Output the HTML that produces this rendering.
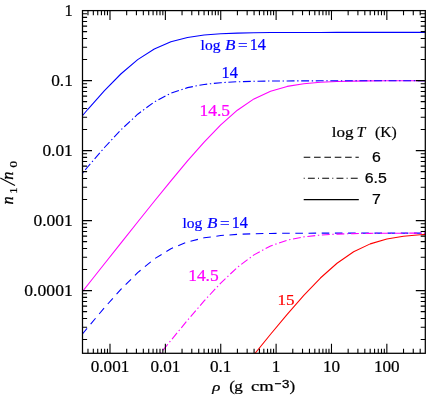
<!DOCTYPE html>
<html><head><meta charset="utf-8"><title>n1/n0</title>
<style>
html,body{margin:0;padding:0;background:#fff;}
body{width:436px;height:397px;overflow:hidden;}
svg{display:block;will-change:transform;}
text{font-family:"Liberation Serif",serif;}
.s{font-family:"Liberation Sans",sans-serif;}
</style></head><body>
<svg width="436" height="397" viewBox="0 0 436 397">
<rect width="436" height="397" fill="#fff"/>
<defs><clipPath id="cp"><rect x="82.50" y="10.60" width="342.80" height="342.70"/></clipPath></defs>
<g clip-path="url(#cp)" fill="none" stroke-width="1.08" stroke-linejoin="round">
<path d="M71.24,305.70 L87.85,284.72 L104.46,263.75 L121.07,242.83 L137.68,221.97 L154.30,201.26 L170.91,180.83 L187.52,160.93 L204.13,142.02 L220.74,124.80 L237.35,110.18 L253.96,98.91 L270.57,91.17 L287.18,86.40 L303.79,83.69 L320.41,82.23 L337.02,81.48 L353.63,81.09 L370.24,80.90 L386.85,80.80 L403.46,80.75 L420.07,80.72 L436.68,80.71" stroke="#ff00ff"/>
<path d="M71.24,585.13 L87.85,564.13 L104.46,543.13 L121.07,522.13 L137.68,501.13 L154.30,480.14 L170.91,459.15 L187.52,438.17 L204.13,417.20 L220.74,396.27 L237.35,375.41 L253.96,354.69 L270.57,334.24 L287.18,314.31 L303.79,295.33 L320.41,278.01 L337.02,263.23 L353.63,251.79 L370.24,243.88 L386.85,238.98 L403.46,236.19 L420.07,234.69 L436.68,233.91" stroke="#ff0000"/>
<path d="M71.24,129.03 L87.85,109.27 L104.46,90.59 L121.07,73.75 L137.68,59.67 L154.30,49.02 L170.91,41.85 L187.52,37.50 L204.13,35.07 L220.74,33.76 L237.35,33.09 L253.96,32.75 L270.57,32.58 L287.18,32.49 L303.79,32.44 L320.41,32.42 L337.02,32.41 L353.63,32.41 L370.24,32.40 L386.85,32.40 L403.46,32.40 L420.07,32.40 L436.68,32.40" stroke="#0000ff"/>
<path d="M71.24,186.85L71.67,186.32M73.36,184.28L74.24,183.23M75.92,181.18L80.96,175.10M82.65,173.05L83.52,172.00M85.21,169.96L87.85,166.76L90.30,163.92M92.03,161.91L92.93,160.87M94.66,158.87L99.82,152.88M101.55,150.88L102.44,149.84M104.17,147.83L104.46,147.50L109.55,142.05M111.36,140.11L112.29,139.11M114.10,137.17L119.49,131.39M121.32,129.47L122.32,128.54M124.26,126.73L130.04,121.35M131.98,119.54L132.98,118.61M134.92,116.80L137.68,114.22L140.99,111.77M143.12,110.19L144.23,109.38M146.36,107.80L152.70,103.10M154.89,101.61L156.10,100.97M158.45,99.74L165.44,96.06M167.78,94.83L169.00,94.19M171.37,93.03L178.87,90.53M181.38,89.69L182.68,89.25M185.19,88.41L187.52,87.63L192.87,86.60M195.47,86.09L196.81,85.83M199.41,85.33L204.13,84.42L207.21,84.09M209.84,83.81L211.21,83.67M213.84,83.39L220.74,82.67L221.70,82.61M224.35,82.47L225.72,82.39M228.36,82.25L236.25,81.81M238.90,81.71L240.27,81.67M242.92,81.59L250.81,81.37M253.46,81.29L253.96,81.28L254.83,81.27M257.48,81.23L265.38,81.12M268.03,81.08L269.40,81.06M272.05,81.03L279.95,80.97M282.60,80.95L283.97,80.94M286.62,80.93L287.18,80.92L294.52,80.89M297.17,80.88L298.54,80.88M301.19,80.87L303.79,80.86L309.09,80.85M311.74,80.85L313.11,80.84M315.76,80.84L320.41,80.83L323.66,80.83M326.31,80.83L327.68,80.82M330.33,80.82L337.02,80.82L338.23,80.81M340.88,80.81L342.25,80.81M344.90,80.81L352.80,80.81M355.45,80.81L356.82,80.81M359.47,80.81L367.37,80.80M370.02,80.80L370.24,80.80L371.39,80.80M374.04,80.80L381.94,80.80M384.59,80.80L385.96,80.80M388.61,80.80L396.51,80.80M399.16,80.80L400.53,80.80M403.18,80.80L403.46,80.80L411.08,80.80M413.73,80.80L415.10,80.80M417.75,80.80L420.07,80.80L425.65,80.80M428.30,80.80L429.67,80.80M432.32,80.80L436.68,80.80" stroke="#0000ff"/>
<path d="M73.91,344.41L78.72,338.52M82.25,334.20L87.06,328.32M90.65,324.05L95.55,318.24M99.15,313.98L104.06,308.17M107.77,304.01L112.85,298.35M116.57,294.20L121.07,289.18L121.69,288.58M125.64,284.64L131.02,279.27M134.97,275.33L137.68,272.63L140.59,270.23M144.90,266.68L150.76,261.84M155.14,258.40L161.62,254.42M166.37,251.49L170.91,248.70L173.01,247.84M178.17,245.73L185.21,242.85M190.51,241.17L197.90,239.36M203.31,238.03L204.13,237.83L210.83,236.92M216.36,236.16L220.74,235.56L223.91,235.33M229.47,234.93L237.05,234.38M242.63,234.16L250.22,233.88M255.80,233.70L263.40,233.56M268.98,233.45L270.57,233.42L276.58,233.36M282.16,233.31L287.18,233.26L289.76,233.25M295.34,233.22L302.94,233.19M308.52,233.17L316.12,233.15M321.70,233.14L329.30,233.13M334.88,233.12L337.02,233.12L342.48,233.12M348.06,233.11L353.63,233.11L355.66,233.11M361.24,233.11L368.84,233.11M374.42,233.10L382.02,233.10M387.60,233.10L395.20,233.10M400.78,233.10L403.46,233.10L408.38,233.10M413.96,233.10L420.07,233.10L421.56,233.10M427.14,233.10L434.74,233.10" stroke="#0000ff"/>
<path d="M72.14,464.38L77.04,458.18M78.69,456.11L79.54,455.03M81.18,452.95L86.09,446.76M87.73,444.68L87.85,444.53L88.58,443.61M90.23,441.53L95.13,435.34M96.78,433.26L97.63,432.19M99.27,430.11L104.18,423.92M105.83,421.84L106.68,420.77M108.32,418.69L113.23,412.50M114.88,410.42L115.73,409.35M117.38,407.27L121.07,402.62L122.29,401.09M123.94,399.01L124.79,397.94M126.44,395.87L131.36,389.68M133.01,387.61L133.86,386.54M135.51,384.46L137.68,381.73L140.44,378.29M142.09,376.22L142.95,375.15M144.60,373.08L149.54,366.91M151.19,364.84L152.05,363.77M153.70,361.70L154.30,360.96L158.66,355.55M160.33,353.49L161.19,352.43M162.86,350.36L167.82,344.22M169.49,342.16L170.35,341.09M172.03,339.04L177.06,332.95M178.74,330.91L179.62,329.85M181.30,327.81L186.33,321.71M188.03,319.68L188.92,318.64M190.65,316.63L195.80,310.64M197.53,308.63L198.42,307.59M200.15,305.58L204.13,300.95L205.35,299.64M207.15,297.69L208.08,296.69M209.88,294.75L215.25,288.95M217.06,287.01L217.99,286.00M219.79,284.06L220.74,283.04L225.47,278.58M227.40,276.76L228.40,275.82M230.33,274.00L236.08,268.59M238.07,266.85L239.17,266.02M241.28,264.43L247.59,259.68M249.71,258.08L250.80,257.26M252.92,255.66L253.96,254.88L259.77,251.75M262.10,250.49L263.31,249.84M265.64,248.58L270.57,245.93L272.74,245.18M275.25,244.31L276.54,243.87M279.05,243.00L286.52,240.43M289.09,239.82L290.44,239.55M293.03,239.02L300.78,237.47M303.38,236.95L303.79,236.86L304.73,236.76M307.37,236.47L315.22,235.61M317.85,235.32L319.22,235.18M321.86,234.96L329.74,234.51M332.39,234.36L333.76,234.28M336.40,234.13L337.02,234.09L344.30,233.88M346.95,233.80L348.32,233.76M350.97,233.68L353.63,233.60L358.86,233.52M361.51,233.48L362.88,233.46M365.53,233.42L370.24,233.35L373.43,233.33M376.08,233.31L377.45,233.30M380.10,233.28L386.85,233.23L388.00,233.22M390.65,233.21L392.02,233.21M394.67,233.20L402.57,233.17M405.22,233.16L406.59,233.16M409.24,233.15L417.14,233.14M419.79,233.13L420.07,233.13L421.16,233.13M423.81,233.13L431.71,233.12M434.36,233.12L435.73,233.12" stroke="#ff00ff"/>
</g>
<g stroke="#000" stroke-width="1.1" fill="none">
<path d="M87.97,353.30L87.97,348.70M87.97,10.60L87.97,15.20M93.33,353.30L93.33,348.70M93.33,10.60L93.33,15.20M97.72,353.30L97.72,348.70M97.72,10.60L97.72,15.20M101.42,353.30L101.42,348.70M101.42,10.60L101.42,15.20M104.63,353.30L104.63,348.70M104.63,10.60L104.63,15.20M107.47,353.30L107.47,348.70M107.47,10.60L107.47,15.20M110.00,353.30L110.00,343.80M110.00,10.60L110.00,20.10M126.67,353.30L126.67,348.70M126.67,10.60L126.67,15.20M136.42,353.30L136.42,348.70M136.42,10.60L136.42,15.20M143.34,353.30L143.34,348.70M143.34,10.60L143.34,15.20M148.70,353.30L148.70,348.70M148.70,10.60L148.70,15.20M153.09,353.30L153.09,348.70M153.09,10.60L153.09,15.20M156.79,353.30L156.79,348.70M156.79,10.60L156.79,15.20M160.00,353.30L160.00,348.70M160.00,10.60L160.00,15.20M162.84,353.30L162.84,348.70M162.84,10.60L162.84,15.20M165.37,353.30L165.37,343.80M165.37,10.60L165.37,20.10M182.04,353.30L182.04,348.70M182.04,10.60L182.04,15.20M191.79,353.30L191.79,348.70M191.79,10.60L191.79,15.20M198.71,353.30L198.71,348.70M198.71,10.60L198.71,15.20M204.07,353.30L204.07,348.70M204.07,10.60L204.07,15.20M208.46,353.30L208.46,348.70M208.46,10.60L208.46,15.20M212.16,353.30L212.16,348.70M212.16,10.60L212.16,15.20M215.37,353.30L215.37,348.70M215.37,10.60L215.37,15.20M218.21,353.30L218.21,348.70M218.21,10.60L218.21,15.20M220.74,353.30L220.74,343.80M220.74,10.60L220.74,20.10M237.41,353.30L237.41,348.70M237.41,10.60L237.41,15.20M247.16,353.30L247.16,348.70M247.16,10.60L247.16,15.20M254.08,353.30L254.08,348.70M254.08,10.60L254.08,15.20M259.44,353.30L259.44,348.70M259.44,10.60L259.44,15.20M263.83,353.30L263.83,348.70M263.83,10.60L263.83,15.20M267.53,353.30L267.53,348.70M267.53,10.60L267.53,15.20M270.74,353.30L270.74,348.70M270.74,10.60L270.74,15.20M273.58,353.30L273.58,348.70M273.58,10.60L273.58,15.20M276.11,353.30L276.11,343.80M276.11,10.60L276.11,20.10M292.78,353.30L292.78,348.70M292.78,10.60L292.78,15.20M302.53,353.30L302.53,348.70M302.53,10.60L302.53,15.20M309.45,353.30L309.45,348.70M309.45,10.60L309.45,15.20M314.81,353.30L314.81,348.70M314.81,10.60L314.81,15.20M319.20,353.30L319.20,348.70M319.20,10.60L319.20,15.20M322.90,353.30L322.90,348.70M322.90,10.60L322.90,15.20M326.11,353.30L326.11,348.70M326.11,10.60L326.11,15.20M328.95,353.30L328.95,348.70M328.95,10.60L328.95,15.20M331.48,353.30L331.48,343.80M331.48,10.60L331.48,20.10M348.15,353.30L348.15,348.70M348.15,10.60L348.15,15.20M357.90,353.30L357.90,348.70M357.90,10.60L357.90,15.20M364.82,353.30L364.82,348.70M364.82,10.60L364.82,15.20M370.18,353.30L370.18,348.70M370.18,10.60L370.18,15.20M374.57,353.30L374.57,348.70M374.57,10.60L374.57,15.20M378.27,353.30L378.27,348.70M378.27,10.60L378.27,15.20M381.48,353.30L381.48,348.70M381.48,10.60L381.48,15.20M384.32,353.30L384.32,348.70M384.32,10.60L384.32,15.20M386.85,353.30L386.85,343.80M386.85,10.60L386.85,20.10M403.52,353.30L403.52,348.70M403.52,10.60L403.52,15.20M413.27,353.30L413.27,348.70M413.27,10.60L413.27,15.20M420.19,353.30L420.19,348.70M420.19,10.60L420.19,15.20M82.50,339.53L87.10,339.53M425.30,339.53L420.70,339.53M82.50,327.20L87.10,327.20M425.30,327.20L420.70,327.20M82.50,318.46L87.10,318.46M425.30,318.46L420.70,318.46M82.50,311.67L87.10,311.67M425.30,311.67L420.70,311.67M82.50,306.13L87.10,306.13M425.30,306.13L420.70,306.13M82.50,301.44L87.10,301.44M425.30,301.44L420.70,301.44M82.50,297.38L87.10,297.38M425.30,297.38L420.70,297.38M82.50,293.80L87.10,293.80M425.30,293.80L420.70,293.80M82.50,290.60L92.00,290.60M425.30,290.60L415.80,290.60M82.50,269.53L87.10,269.53M425.30,269.53L420.70,269.53M82.50,257.20L87.10,257.20M425.30,257.20L420.70,257.20M82.50,248.46L87.10,248.46M425.30,248.46L420.70,248.46M82.50,241.67L87.10,241.67M425.30,241.67L420.70,241.67M82.50,236.13L87.10,236.13M425.30,236.13L420.70,236.13M82.50,231.44L87.10,231.44M425.30,231.44L420.70,231.44M82.50,227.38L87.10,227.38M425.30,227.38L420.70,227.38M82.50,223.80L87.10,223.80M425.30,223.80L420.70,223.80M82.50,220.60L92.00,220.60M425.30,220.60L415.80,220.60M82.50,199.53L87.10,199.53M425.30,199.53L420.70,199.53M82.50,187.20L87.10,187.20M425.30,187.20L420.70,187.20M82.50,178.46L87.10,178.46M425.30,178.46L420.70,178.46M82.50,171.67L87.10,171.67M425.30,171.67L420.70,171.67M82.50,166.13L87.10,166.13M425.30,166.13L420.70,166.13M82.50,161.44L87.10,161.44M425.30,161.44L420.70,161.44M82.50,157.38L87.10,157.38M425.30,157.38L420.70,157.38M82.50,153.80L87.10,153.80M425.30,153.80L420.70,153.80M82.50,150.60L92.00,150.60M425.30,150.60L415.80,150.60M82.50,129.53L87.10,129.53M425.30,129.53L420.70,129.53M82.50,117.20L87.10,117.20M425.30,117.20L420.70,117.20M82.50,108.46L87.10,108.46M425.30,108.46L420.70,108.46M82.50,101.67L87.10,101.67M425.30,101.67L420.70,101.67M82.50,96.13L87.10,96.13M425.30,96.13L420.70,96.13M82.50,91.44L87.10,91.44M425.30,91.44L420.70,91.44M82.50,87.38L87.10,87.38M425.30,87.38L420.70,87.38M82.50,83.80L87.10,83.80M425.30,83.80L420.70,83.80M82.50,80.60L92.00,80.60M425.30,80.60L415.80,80.60M82.50,59.53L87.10,59.53M425.30,59.53L420.70,59.53M82.50,47.20L87.10,47.20M425.30,47.20L420.70,47.20M82.50,38.46L87.10,38.46M425.30,38.46L420.70,38.46M82.50,31.67L87.10,31.67M425.30,31.67L420.70,31.67M82.50,26.13L87.10,26.13M425.30,26.13L420.70,26.13M82.50,21.44L87.10,21.44M425.30,21.44L420.70,21.44M82.50,17.38L87.10,17.38M425.30,17.38L420.70,17.38M82.50,13.80L87.10,13.80M425.30,13.80L420.70,13.80"/>
</g>
<rect x="82.50" y="10.60" width="342.80" height="342.70" fill="none" stroke="#000" stroke-width="1.25"/>
<text transform="translate(72.80,15.70) scale(1.000,1)" font-size="16.50" text-anchor="end" fill="#000" stroke="#000" stroke-width="0.20">1</text>
<text transform="translate(72.80,86.00) scale(1.050,1)" font-size="16.50" text-anchor="end" fill="#000" stroke="#000" stroke-width="0.20">0.1</text>
<text transform="translate(72.80,155.90) scale(1.055,1)" font-size="16.50" text-anchor="end" fill="#000" stroke="#000" stroke-width="0.20">0.01</text>
<text transform="translate(72.80,225.90) scale(1.060,1)" font-size="16.50" text-anchor="end" fill="#000" stroke="#000" stroke-width="0.20">0.001</text>
<text transform="translate(72.80,296.00) scale(1.070,1)" font-size="16.50" text-anchor="end" fill="#000" stroke="#000" stroke-width="0.20">0.0001</text>
<text transform="translate(110.00,372.40) scale(1.040,1)" font-size="16.50" text-anchor="middle" fill="#000" stroke="#000" stroke-width="0.20">0.001</text>
<text transform="translate(165.40,372.40) scale(1.040,1)" font-size="16.50" text-anchor="middle" fill="#000" stroke="#000" stroke-width="0.20">0.01</text>
<text transform="translate(220.70,372.40) scale(1.040,1)" font-size="16.50" text-anchor="middle" fill="#000" stroke="#000" stroke-width="0.20">0.1</text>
<text transform="translate(276.10,372.40) scale(1.040,1)" font-size="16.50" text-anchor="middle" fill="#000" stroke="#000" stroke-width="0.20">1</text>
<text transform="translate(331.50,372.40) scale(1.040,1)" font-size="16.50" text-anchor="middle" fill="#000" stroke="#000" stroke-width="0.20">10</text>
<text transform="translate(386.80,372.40) scale(1.040,1)" font-size="16.50" text-anchor="middle" fill="#000" stroke="#000" stroke-width="0.20">100</text>
<text transform="translate(212.30,390.50) scale(1.320,1)" font-size="12.80" text-anchor="start" fill="#000" font-style="italic" stroke="#000" stroke-width="0.22">ρ</text>
<text transform="translate(229.30,391.30) scale(1.100,1)" font-size="15.50" text-anchor="start" fill="#000" stroke="#000" stroke-width="0.22">(</text>
<text transform="translate(234.20,390.50) scale(1.100,1)" font-size="15.50" text-anchor="start" fill="#000" stroke="#000" stroke-width="0.22">g</text>
<text transform="translate(251.00,390.50) scale(1.200,1)" font-size="15.50" text-anchor="start" fill="#000" stroke="#000" stroke-width="0.22">cm</text>
<text transform="translate(281.90,388.20) scale(1.300,1)" font-size="10.20" text-anchor="start" fill="#000" class="s" stroke="#000" stroke-width="0.30">3</text>
<text transform="translate(289.40,391.30) scale(1.100,1)" font-size="15.50" text-anchor="start" fill="#000" stroke="#000" stroke-width="0.22">)</text>
<text transform="translate(331.70,137.30) scale(1.100,1)" font-size="15.50" text-anchor="start" fill="#000" stroke="#000" stroke-width="0.22">log</text>
<text transform="translate(356.50,137.30) scale(1.020,1)" font-size="15.50" text-anchor="start" fill="#000" font-style="italic" stroke="#000" stroke-width="0.22">T</text>
<text transform="translate(375.00,137.30) scale(1.010,1)" font-size="15.50" text-anchor="start" fill="#000" stroke="#000" stroke-width="0.22">(K)</text>
<text transform="translate(376.50,161.90) scale(1.100,1)" font-size="14.40" text-anchor="middle" fill="#000" class="s" stroke="#000" stroke-width="0.22">6</text>
<text transform="translate(375.70,182.70) scale(1.100,1)" font-size="14.40" text-anchor="middle" fill="#000" class="s" stroke="#000" stroke-width="0.22">6.5</text>
<text transform="translate(376.50,203.50) scale(1.100,1)" font-size="14.40" text-anchor="middle" fill="#000" class="s" stroke="#000" stroke-width="0.22">7</text>
<text transform="translate(200.60,49.80) scale(1.000,1)" font-size="15.50" text-anchor="start" fill="#0000ff" stroke="#0000ff" stroke-width="0.22">log</text>
<text transform="translate(225.10,49.80) scale(1.100,1)" font-size="15.50" text-anchor="start" fill="#0000ff" font-style="italic" stroke="#0000ff" stroke-width="0.22">B</text>
<text transform="translate(238.00,49.80) scale(1.100,1)" font-size="15.50" text-anchor="start" fill="#0000ff" stroke="#0000ff" stroke-width="0.22">=</text>
<text transform="translate(249.80,49.80) scale(0.990,1)" font-size="16.30" text-anchor="start" fill="#0000ff" stroke="#0000ff" stroke-width="0.22">14</text>
<text transform="translate(182.50,228.30) scale(1.000,1)" font-size="15.50" text-anchor="start" fill="#0000ff" stroke="#0000ff" stroke-width="0.22">log</text>
<text transform="translate(207.00,228.30) scale(1.100,1)" font-size="15.50" text-anchor="start" fill="#0000ff" font-style="italic" stroke="#0000ff" stroke-width="0.22">B</text>
<text transform="translate(219.90,228.30) scale(1.100,1)" font-size="15.50" text-anchor="start" fill="#0000ff" stroke="#0000ff" stroke-width="0.22">=</text>
<text transform="translate(231.70,228.30) scale(0.990,1)" font-size="16.30" text-anchor="start" fill="#0000ff" stroke="#0000ff" stroke-width="0.22">14</text>
<text transform="translate(221.50,77.60) scale(1.000,1)" font-size="16.30" text-anchor="start" fill="#0000ff" stroke="#0000ff" stroke-width="0.22">14</text>
<text transform="translate(199.50,115.90) scale(1.090,1)" font-size="16.00" text-anchor="start" fill="#ff00ff" stroke="#ff00ff" stroke-width="0.22">14.5</text>
<text transform="translate(188.20,280.50) scale(1.090,1)" font-size="16.00" text-anchor="start" fill="#ff00ff" stroke="#ff00ff" stroke-width="0.22">14.5</text>
<text transform="translate(277.40,304.80) scale(1.100,1)" font-size="15.50" text-anchor="start" fill="#ff0000" stroke="#ff0000" stroke-width="0.22">15</text>
<g transform="translate(12.8,204.4) rotate(-90)">
<text transform="translate(0,0) scale(0.95,1)" font-size="17" font-style="italic" stroke="#000" stroke-width="0.3">n</text>
<text transform="translate(10.6,4.1) scale(1.15,1)" font-size="11" stroke="#000" stroke-width="0.2">1</text>
<path d="M19.0,2.2L26.4,-12.5" stroke="#000" stroke-width="1.1" fill="none"/>
<text transform="translate(24.6,0) scale(0.95,1)" font-size="17" font-style="italic" stroke="#000" stroke-width="0.3">n</text>
<text transform="translate(36.7,4.1) scale(1.25,1)" font-size="11" stroke="#000" stroke-width="0.2">0</text>
</g>
<g stroke="#000" stroke-width="1.1" fill="none">
<path d="M303.7,157.2H358.8" stroke-dasharray="6.6,3.75"/>
<path d="M303.7,178.3H358.8" stroke-dasharray="1,3.2,6.9,3.2"/>
<path d="M303.7,199.6H358.8"/>
<path d="M274.9,383.7H281.1" stroke-width="1.15"/>
</g>
</svg>
</body></html>
